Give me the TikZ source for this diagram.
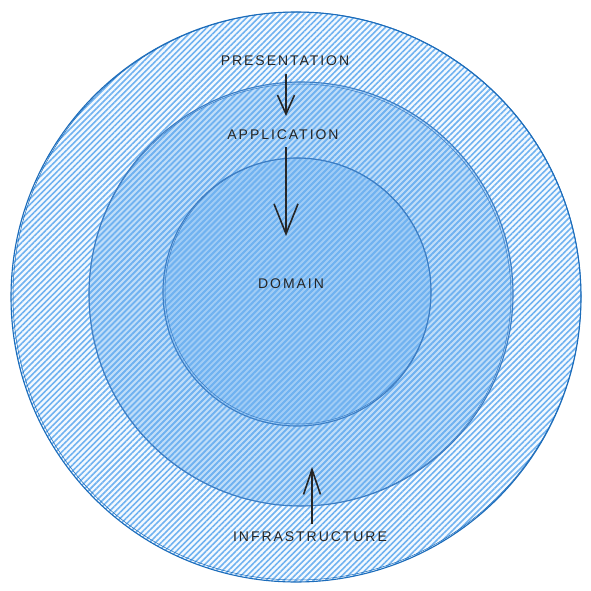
\documentclass[tikz,border=0pt]{standalone}
\usepackage{fontspec}
\setmainfont[LetterSpace=14]{Liberation Sans}
\usetikzlibrary{patterns.meta,arrows.meta}
\definecolor{hatchblue}{RGB}{112,178,240}
\definecolor{ringblue}{RGB}{28,108,186}
\definecolor{innerline}{RGB}{60,125,195}
\begin{document}
\begin{tikzpicture}[x=1pt,y=-1pt]

\useasboundingbox (0,0) rectangle (591,591);

\tikzset{layer/.style={pattern={Lines[angle=45,distance=4.2pt,line width=1.6pt]},pattern color=hatchblue}}
\tikzset{tint/.style={fill=hatchblue,fill opacity=#1}}
\tikzset{rim/.style={draw=#1,line width=1.1pt}}
\tikzset{label/.style={font=\fontsize{14}{14}\selectfont,text=black!85}}

% layers, outside to inside
\fill[tint=0.08] (296,297) circle (285);
\fill[layer] (296,297) circle (285);
\draw[rim=ringblue] (296,297) circle (285);
\draw[rim=ringblue,line width=0.5pt] (297,296) circle (284);

\fill[tint=0.4] (301,294) circle (212);
\fill[layer] (301,294) circle (212);
\draw[rim=innerline] (301,294) circle (212);
\draw[rim=innerline,line width=0.5pt] (300,295) circle (211);

\fill[tint=0.4] (297,292) circle (134);
\fill[layer] (297,292) circle (134);
\draw[rim=innerline] (297,292) circle (134);
\draw[rim=innerline,line width=0.5pt] (298,291) circle (133);

\node[label] (pres) at (285,61) {PRESENTATION};
\node[label] (app) at (283,135) {APPLICATION};
\node[label] (dom) at (291,284) {DOMAIN};
\node[label] (infra) at (310,537) {INFRASTRUCTURE};

\coordinate (append) at (286,236);
\coordinate (infraend) at (312,467);

\tikzset{dep/.style={line width=1.6pt,black!85,-{Straight Barb[length=#1,width=17pt,line width=1.6pt]}}}
\draw[dep=19pt] (pres.south -| 286,0) ++(0,5) -- (286,116);
\draw[dep=30pt,-{Straight Barb[length=30pt,width=24pt,line width=1.6pt]}] (app.south -| 286,0) ++(0,4) -- (append);
\draw[dep=25pt] (infra.north -| 312,0) ++(0,-5) -- (infraend);

\end{tikzpicture}
\end{document}
